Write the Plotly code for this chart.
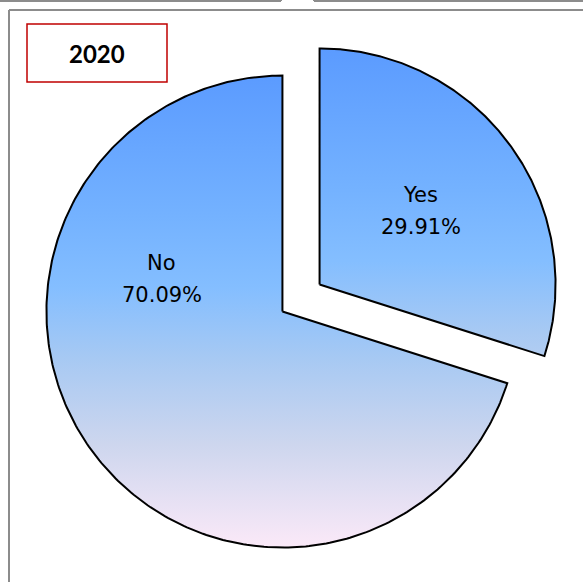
import numpy as np
import plotly.graph_objects as go

# Survey answers for 2020 (share of respondents, %)
categories = ["Yes", "No"]
shares = [29.91, 70.09]
chart_title = "2020"

# Canvas and pie geometry (pixels)
W, H = 583, 582
CX, CY, R = 301, 298, 236
PULL = 23
START_DEG = 0  # first slice starts at 12 o'clock, clockwise

GRADIENT = [
    [0.00, "#5b9bff"],
    [0.30, "#74b2ff"],
    [0.45, "#84beff"],
    [0.60, "#a7c9f3"],
    [0.78, "#cdd6ee"],
    [1.00, "#fbe9f8"],
]
LABEL_ANGLE = {"Yes": None, "No": 285}  # None -> slice bisector
LABEL_FONT = dict(family="DejaVu Sans", size=21, color="black")
LINE_GAP = 16  # half the distance between the two label lines

fig = go.Figure()

total = float(sum(shares))
theta0 = START_DEG
for cat, val in zip(categories, shares):
    span = 360.0 * val / total
    mid = np.radians(theta0 + span / 2)
    ox = CX + PULL * np.sin(mid)
    oy = CY - PULL * np.cos(mid)
    t = np.radians(np.linspace(theta0, theta0 + span, 300))
    xs = np.concatenate([[ox], ox + R * np.sin(t), [ox]])
    ys = np.concatenate([[oy], oy - R * np.cos(t), [oy]])
    fig.add_trace(go.Scatter(
        x=xs, y=ys, mode="lines", fill="toself",
        fillgradient=dict(type="vertical", colorscale=GRADIENT,
                          start=oy - R, stop=oy + R),
        line=dict(color="black", width=2),
        hoverinfo="skip", showlegend=False, name=cat,
    ))
    la = LABEL_ANGLE.get(cat)
    la = np.radians(la) if la is not None else mid
    lx = ox + 0.53 * R * np.sin(la)
    ly = oy - 0.53 * R * np.cos(la)
    fig.add_annotation(x=lx, y=ly - LINE_GAP, text=cat,
                       showarrow=False, font=LABEL_FONT)
    fig.add_annotation(x=lx, y=ly + LINE_GAP, text=f"{100 * val / total:.2f}%",
                       showarrow=False, font=LABEL_FONT)
    theta0 += span

# Title box
fig.add_shape(type="rect", x0=27, y0=24, x1=167, y1=82,
              line=dict(color="#c00000", width=1.5), fillcolor="white", layer="above")
fig.add_annotation(x=97, y=53, text=chart_title, showarrow=False,
                   font=dict(family="Lato", size=24, color="black", weight="bold"))

# Chart frame and neighbouring frames along the top edge
frame = dict(color="#8c8c8c", width=2)
fig.add_shape(type="line", x0=9, y0=10, x1=W + 5, y1=10, line=frame)
fig.add_shape(type="line", x0=9, y0=10, x1=9, y1=H + 5, line=frame)
fig.add_shape(type="line", x0=-5, y0=1, x1=281, y1=1, line=frame)
fig.add_shape(type="line", x0=281, y0=1, x1=281, y1=-5, line=frame)
fig.add_shape(type="line", x0=314, y0=1, x1=W + 5, y1=1, line=frame)
fig.add_shape(type="line", x0=314, y0=1, x1=314, y1=-5, line=frame)

fig.update_layout(
    width=W, height=H,
    margin=dict(l=0, r=0, t=0, b=0),
    paper_bgcolor="white", plot_bgcolor="white",
    xaxis=dict(range=[0, W], visible=False, fixedrange=True),
    yaxis=dict(range=[H, 0], visible=False, fixedrange=True),
    showlegend=False,
)

fig.write_html("out.html")
